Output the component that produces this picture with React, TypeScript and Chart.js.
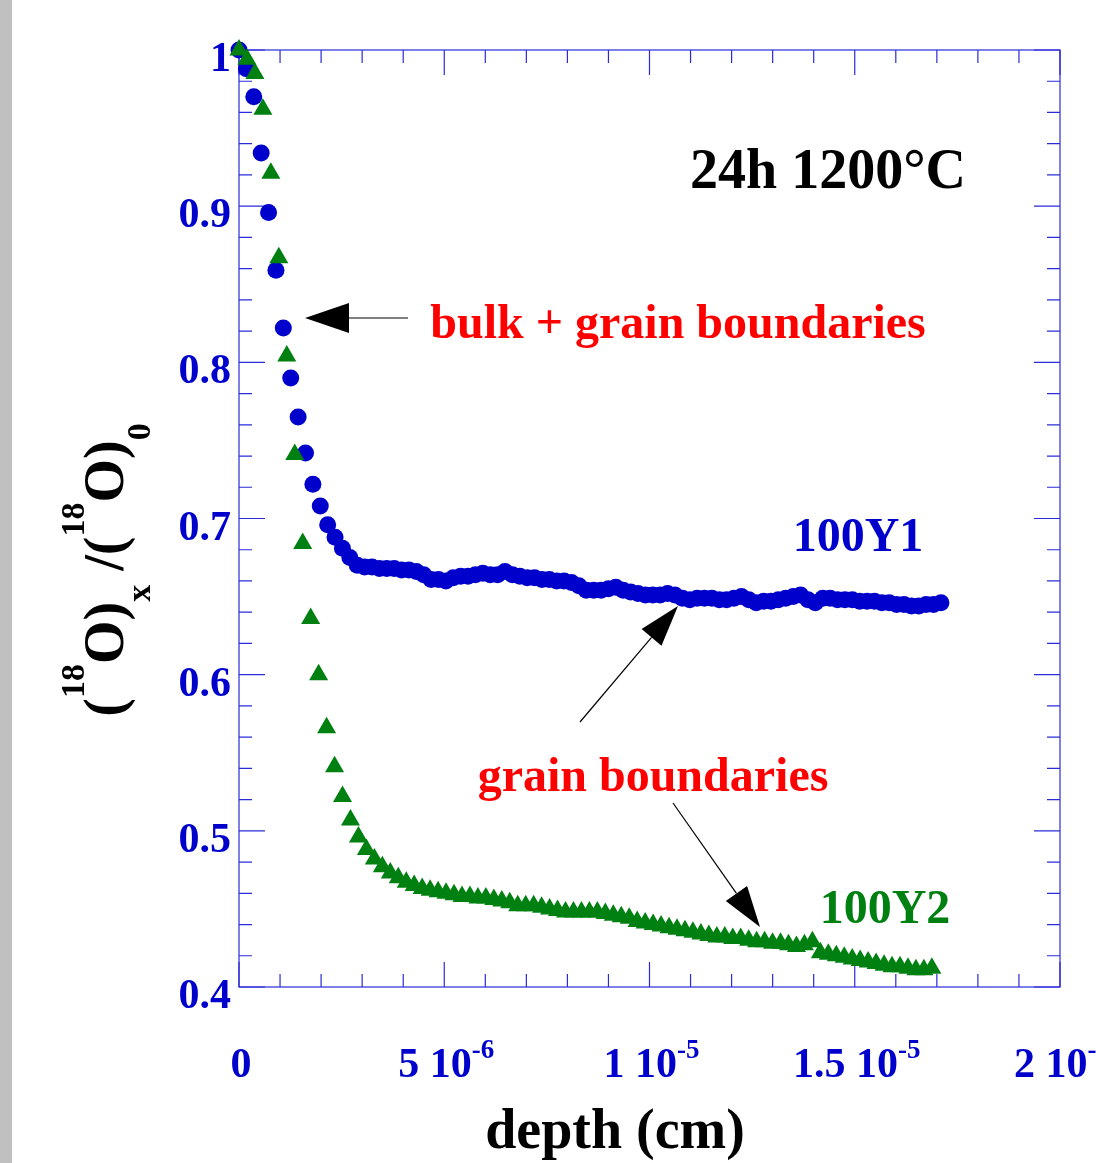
import { useEffect, useRef } from 'react';
import { Chart, registerables } from 'chart.js';

Chart.register(...registerables);

const FONT = '"Liberation Serif", "Times New Roman", Times, serif';

// depth in units of 1e-6 cm
const DEPTH_Y1 = [
  0, 0.18, 0.36, 0.54, 0.72, 0.9, 1.08, 1.26, 1.44, 1.62,
  1.8, 1.98, 2.16, 2.34, 2.52, 2.7, 2.88, 3.06, 3.24, 3.42,
  3.6, 3.78, 3.96, 4.14, 4.32, 4.5, 4.68, 4.86, 5.04, 5.22,
  5.4, 5.58, 5.76, 5.94, 6.12, 6.3, 6.48, 6.66, 6.84, 7.02,
  7.2, 7.38, 7.56, 7.74, 7.92, 8.1, 8.28, 8.46, 8.64, 8.82,
  9.0, 9.18, 9.36, 9.54, 9.72, 9.9, 10.08, 10.26, 10.44, 10.62,
  10.8, 10.98, 11.16, 11.34, 11.52, 11.7, 11.88, 12.06, 12.24, 12.42,
  12.6, 12.78, 12.96, 13.14, 13.32, 13.5, 13.68, 13.86, 14.04, 14.22,
  14.4, 14.58, 14.76, 14.94, 15.12, 15.3, 15.48, 15.66, 15.84, 16.02,
  16.2, 16.38, 16.56, 16.74, 16.92, 17.1,
];
const RATIO_Y1 = [
  1.0, 0.988, 0.97, 0.934, 0.896, 0.859, 0.822, 0.79, 0.765, 0.742,
  0.722, 0.708, 0.696, 0.688, 0.681, 0.675, 0.67, 0.669, 0.669, 0.668,
  0.668, 0.668, 0.667, 0.667, 0.666, 0.664, 0.661, 0.661, 0.66, 0.662,
  0.663, 0.663, 0.664, 0.665, 0.664, 0.664, 0.666, 0.664, 0.663, 0.662,
  0.662, 0.661, 0.661, 0.66, 0.66, 0.659, 0.657, 0.654, 0.654, 0.654,
  0.655, 0.656, 0.654, 0.653, 0.652, 0.651, 0.651, 0.651, 0.652, 0.651,
  0.649, 0.648, 0.649, 0.649, 0.649, 0.648, 0.648, 0.649, 0.65, 0.648,
  0.646, 0.647, 0.647, 0.648, 0.649, 0.65, 0.651, 0.648, 0.646, 0.649,
  0.649, 0.648, 0.648, 0.648, 0.647, 0.647, 0.647, 0.646, 0.646, 0.645,
  0.645, 0.644, 0.644, 0.645, 0.645, 0.646,
];

const DEPTH_Y2 = [
  0, 0.194, 0.388, 0.582, 0.776, 0.97, 1.164, 1.358, 1.552, 1.746,
  1.94, 2.134, 2.328, 2.522, 2.716, 2.91, 3.104, 3.298, 3.492, 3.686,
  3.88, 4.074, 4.268, 4.462, 4.656, 4.85, 5.044, 5.238, 5.432, 5.626,
  5.82, 6.014, 6.208, 6.402, 6.596, 6.79, 6.984, 7.178, 7.372, 7.566,
  7.76, 7.954, 8.148, 8.342, 8.536, 8.73, 8.924, 9.118, 9.312, 9.506,
  9.7, 9.894, 10.088, 10.282, 10.476, 10.67, 10.864, 11.058, 11.252, 11.446,
  11.64, 11.834, 12.028, 12.222, 12.416, 12.61, 12.804, 12.998, 13.192, 13.386,
  13.58, 13.774, 13.968, 14.162, 14.356, 14.55, 14.744, 14.938, 15.132, 15.326,
  15.52, 15.714, 15.908, 16.102, 16.296, 16.49, 16.684, 16.878,
];
const RATIO_Y2 = [
  1.0, 0.994, 0.985, 0.962, 0.921, 0.867, 0.804, 0.741, 0.684, 0.636,
  0.6, 0.566, 0.541, 0.522, 0.507, 0.496, 0.488, 0.482, 0.477, 0.473,
  0.47, 0.467, 0.465, 0.463, 0.462, 0.461, 0.46, 0.459, 0.458, 0.458,
  0.457, 0.457, 0.456, 0.455, 0.454, 0.452, 0.452, 0.452, 0.451, 0.45,
  0.449, 0.448, 0.448, 0.448, 0.448, 0.448, 0.447, 0.446, 0.445, 0.444,
  0.442, 0.441, 0.44, 0.439, 0.438, 0.437, 0.436, 0.435, 0.434, 0.433,
  0.432, 0.432, 0.431, 0.431, 0.43, 0.429, 0.429, 0.428, 0.428, 0.427,
  0.426, 0.427, 0.429, 0.422, 0.421, 0.42, 0.419, 0.418, 0.417, 0.416,
  0.415, 0.414, 0.413, 0.413, 0.412, 0.411, 0.411, 0.412,
];

const X_TICK_VALUES = [0, 5e-6, 1e-5, 1.5e-5, 2e-5];
const X_TICK_BASES = ['0', '5 10', '1 10', '1.5 10', '2 10'];
const X_TICK_EXPS = ['', '-6', '-5', '-5', '-5'];
const Y_TICK_VALUES = [0.4, 0.5, 0.6, 0.7, 0.8, 0.9, 1.0];
const Y_TICK_LABELS = ['0.4', '0.5', '0.6', '0.7', '0.8', '0.9', '1'];

const BLUE = '#0000cc';
const GREEN = '#008010';
const RED = '#ff0000';
const AXIS = '#2b2bd9';

function drawArrow(ctx: CanvasRenderingContext2D, x1: number, y1: number, x2: number, y2: number, len: number, half: number) {
  const dx = x2 - x1;
  const dy = y2 - y1;
  const d = Math.hypot(dx, dy);
  const ux = dx / d;
  const uy = dy / d;
  const bx = x2 - ux * len;
  const by = y2 - uy * len;
  ctx.strokeStyle = '#000';
  ctx.lineWidth = 1.2;
  ctx.beginPath();
  ctx.moveTo(x1, y1);
  ctx.lineTo(bx, by);
  ctx.stroke();
  ctx.fillStyle = '#000';
  ctx.beginPath();
  ctx.moveTo(x2, y2);
  ctx.lineTo(bx - uy * half, by + ux * half);
  ctx.lineTo(bx + uy * half, by - ux * half);
  ctx.closePath();
  ctx.fill();
}

const axesPlugin = {
  id: 'axesPlugin',
  beforeDatasetsDraw(chart: any) {
    const ctx: CanvasRenderingContext2D = chart.ctx;
    const { left, right, top, bottom } = chart.chartArea;
    const xs = chart.scales.x;
    const ys = chart.scales.y;
    ctx.save();
    ctx.fillStyle = '#c0c0c0';
    ctx.fillRect(0, 0, 12, chart.height);

    ctx.strokeStyle = AXIS;
    ctx.lineWidth = 1.2;
    ctx.strokeRect(left, top, right - left, bottom - top);

    ctx.beginPath();
    for (let k = 0; k <= 20; k++) {
      const px = xs.getPixelForValue(k * 1e-6);
      const len = k % 5 === 0 ? 25 : 13;
      ctx.moveTo(px, bottom);
      ctx.lineTo(px, bottom - len);
      ctx.moveTo(px, top);
      ctx.lineTo(px, top + len);
    }
    for (let k = 0; k <= 30; k++) {
      const py = ys.getPixelForValue(0.4 + k * 0.02);
      const len = k % 5 === 0 ? 26 : 13;
      ctx.moveTo(left, py);
      ctx.lineTo(left + len, py);
      ctx.moveTo(right, py);
      ctx.lineTo(right - len, py);
    }
    ctx.stroke();

    ctx.fillStyle = BLUE;
    ctx.textBaseline = 'alphabetic';
    ctx.font = `bold 42px ${FONT}`;
    ctx.textAlign = 'right';
    Y_TICK_VALUES.forEach((v, i) => {
      ctx.fillText(Y_TICK_LABELS[i], left - 8, ys.getPixelForValue(v) + 21);
    });

    X_TICK_VALUES.forEach((v, i) => {
      const cx = xs.getPixelForValue(v);
      ctx.font = `bold 42px ${FONT}`;
      const wb = ctx.measureText(X_TICK_BASES[i]).width;
      ctx.font = `bold 27px ${FONT}`;
      const we = X_TICK_EXPS[i] ? ctx.measureText(X_TICK_EXPS[i]).width : 0;
      const x0 = cx - (wb + we) / 2 + 2;
      ctx.textAlign = 'left';
      ctx.font = `bold 42px ${FONT}`;
      ctx.fillText(X_TICK_BASES[i], x0, 1077);
      if (X_TICK_EXPS[i]) {
        ctx.font = `bold 27px ${FONT}`;
        ctx.fillText(X_TICK_EXPS[i], x0 + wb, 1058);
      }
    });
    ctx.restore();
  },
  afterDatasetsDraw(chart: any) {
    const ctx: CanvasRenderingContext2D = chart.ctx;
    ctx.save();
    ctx.textBaseline = 'alphabetic';
    ctx.textAlign = 'center';

    ctx.fillStyle = '#000';
    ctx.font = `bold 56px ${FONT}`;
    ctx.fillText('depth (cm)', 615, 1148);
    ctx.fillText('24h 1200°C', 828, 188);

    ctx.font = `bold 48px ${FONT}`;
    ctx.fillStyle = RED;
    ctx.fillText('bulk + grain boundaries', 678, 338);
    ctx.fillText('grain boundaries', 653, 791);
    ctx.fillStyle = BLUE;
    ctx.fillText('100Y1', 858, 551);
    ctx.fillStyle = GREEN;
    ctx.fillText('100Y2', 885, 923);

    drawArrow(ctx, 408, 318, 305, 318, 44, 15);
    drawArrow(ctx, 580, 722, 678, 606, 41, 13);
    drawArrow(ctx, 673, 803, 760, 927, 41, 13);

    // y-axis title
    const segs: [string, string][] = [
      ['(', 'm'], ['18', 'p'], ['O)', 'm'], ['x', 'b'], [' /(', 'm'], ['18', 'p'], ['O)', 'm'], ['0', 'b'],
    ];
    const fontFor = (k: string) => (k === 'm' ? `bold 56px ${FONT}` : `bold 34px ${FONT}`);
    const offFor = (k: string) => (k === 'p' ? -39 : k === 'b' ? 27 : 0);
    let total = 0;
    const widths = segs.map(([t, k]) => {
      ctx.font = fontFor(k);
      const w = ctx.measureText(t).width;
      total += w;
      return w;
    });
    ctx.translate(123, 570);
    ctx.rotate(-Math.PI / 2);
    ctx.fillStyle = '#000';
    ctx.textAlign = 'left';
    let x = -total / 2;
    segs.forEach(([t, k], i) => {
      ctx.font = fontFor(k);
      ctx.fillText(t, x, offFor(k));
      x += widths[i];
    });
    ctx.restore();
  },
};

export default function App() {
  const ref = useRef<HTMLCanvasElement>(null);
  useEffect(() => {
    const canvas = ref.current;
    if (!canvas) return;
    const chart = new Chart(canvas, {
      type: 'scatter',
      data: {
        datasets: [
          {
            label: '100Y2',
            data: DEPTH_Y2.map((d, i) => ({ x: d * 1e-6, y: RATIO_Y2[i] })),
            pointStyle: 'triangle',
            pointRadius: 11,
            pointHoverRadius: 11,
            backgroundColor: GREEN,
            borderWidth: 0,
            clip: false,
          } as any,
          {
            label: '100Y1',
            data: DEPTH_Y1.map((d, i) => ({ x: d * 1e-6, y: RATIO_Y1[i] })),
            pointStyle: 'circle',
            pointRadius: 8.5,
            pointHoverRadius: 8.5,
            backgroundColor: BLUE,
            borderWidth: 0,
            clip: false,
          } as any,
        ],
      },
      options: {
        responsive: false,
        animation: false,
        events: [],
        layout: { padding: { left: 239, right: 36, top: 50, bottom: 176 } },
        scales: {
          x: { type: 'linear', min: 0, max: 2e-5, display: false },
          y: { type: 'linear', min: 0.4, max: 1.0, display: false },
        },
        plugins: { legend: { display: false }, tooltip: { enabled: false } },
      },
      plugins: [axesPlugin],
    });
    return () => chart.destroy();
  }, []);
  return (
    <div style={{ position: 'absolute', left: 0, top: 0, width: 1096, height: 1163, background: '#fff' }}>
      <canvas ref={ref} width={1096} height={1163} style={{ display: 'block' }} />
    </div>
  );
}
